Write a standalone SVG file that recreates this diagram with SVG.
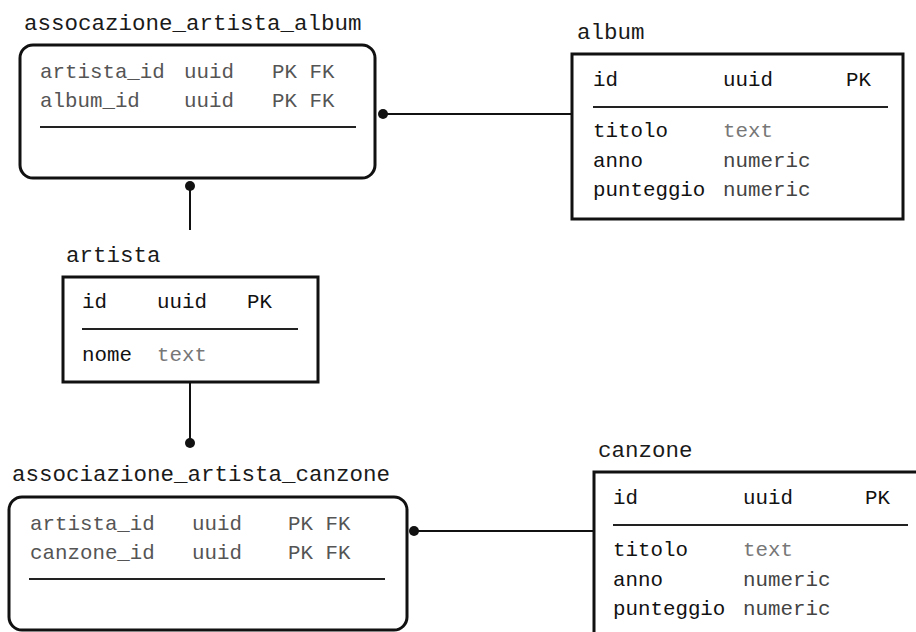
<svg xmlns="http://www.w3.org/2000/svg" width="916" height="632" viewBox="0 0 916 632">
<style>
.t{font-family:"Liberation Mono","DejaVu Sans Mono",monospace;font-size:22.5px;fill:#1a1a1a}
.r{font-family:"Liberation Mono","DejaVu Sans Mono",monospace;font-size:20.8px}
.k{fill:#111}
.g{fill:#555}
.l{fill:#777}
.n{fill:#444}
.box{fill:#fff;stroke:#111;stroke-width:3}
.sep{stroke:#222;stroke-width:2}
.con{stroke:#111;stroke-width:2;fill:none}
.dot{fill:#111}
</style>
<rect width="916" height="632" fill="#fff"/>
<g id="connectors">
<line class="con" x1="383" y1="114" x2="572" y2="114"/>
<circle class="dot" cx="383" cy="114" r="5"/>
<line class="con" x1="190" y1="186" x2="190" y2="230"/>
<circle class="dot" cx="190" cy="186" r="5"/>
<line class="con" x1="190" y1="382" x2="190" y2="443"/>
<circle class="dot" cx="190" cy="443" r="5"/>
<line class="con" x1="414" y1="531" x2="593" y2="531"/>
<circle class="dot" cx="414" cy="531" r="5"/>
</g>
<g id="assocazione_artista_album">
<text class="t" x="24" y="30">assocazione_artista_album</text>
<rect class="box" x="20" y="45" width="355" height="133" rx="13"/>
<text class="r g" x="40" y="78">artista_id</text>
<text class="r g" x="184" y="78">uuid</text>
<text class="r g" x="272" y="78">PK FK</text>
<text class="r g" x="40" y="107">album_id</text>
<text class="r g" x="184" y="107">uuid</text>
<text class="r g" x="272" y="107">PK FK</text>
<line class="sep" x1="40" y1="127" x2="356" y2="127"/>
</g>
<g id="album">
<text class="t" x="577" y="39">album</text>
<rect class="box" x="572" y="54" width="331" height="165"/>
<text class="r k" x="593" y="86">id</text>
<text class="r k" x="723" y="86">uuid</text>
<text class="r k" x="846" y="86">PK</text>
<line class="sep" x1="593" y1="107" x2="888" y2="107"/>
<text class="r k" x="593" y="137">titolo</text>
<text class="r l" x="723" y="137">text</text>
<text class="r k" x="593" y="167">anno</text>
<text class="r n" x="723" y="167">numeric</text>
<text class="r k" x="593" y="196">punteggio</text>
<text class="r n" x="723" y="196">numeric</text>
</g>
<g id="artista">
<text class="t" x="66" y="262">artista</text>
<rect class="box" x="63" y="277" width="255" height="105"/>
<text class="r k" x="82" y="308">id</text>
<text class="r k" x="157" y="308">uuid</text>
<text class="r k" x="247" y="308">PK</text>
<line class="sep" x1="82" y1="329" x2="298" y2="329"/>
<text class="r k" x="82" y="361">nome</text>
<text class="r l" x="157" y="361">text</text>
</g>
<g id="associazione_artista_canzone">
<text class="t" x="12" y="481">associazione_artista_canzone</text>
<rect class="box" x="9" y="497" width="398" height="133" rx="13"/>
<text class="r g" x="30" y="530">artista_id</text>
<text class="r g" x="192" y="530">uuid</text>
<text class="r g" x="288" y="530">PK FK</text>
<text class="r g" x="30" y="559">canzone_id</text>
<text class="r g" x="192" y="559">uuid</text>
<text class="r g" x="288" y="559">PK FK</text>
<line class="sep" x1="29" y1="579" x2="385" y2="579"/>
</g>
<g id="canzone">
<text class="t" x="598" y="457">canzone</text>
<rect class="box" x="594" y="472" width="340" height="180"/>
<text class="r k" x="613" y="504">id</text>
<text class="r k" x="743" y="504">uuid</text>
<text class="r k" x="865" y="504">PK</text>
<line class="sep" x1="613" y1="525" x2="908" y2="525"/>
<text class="r k" x="613" y="556">titolo</text>
<text class="r l" x="743" y="556">text</text>
<text class="r k" x="613" y="586">anno</text>
<text class="r n" x="743" y="586">numeric</text>
<text class="r k" x="613" y="615">punteggio</text>
<text class="r n" x="743" y="615">numeric</text>
</g>
</svg>
